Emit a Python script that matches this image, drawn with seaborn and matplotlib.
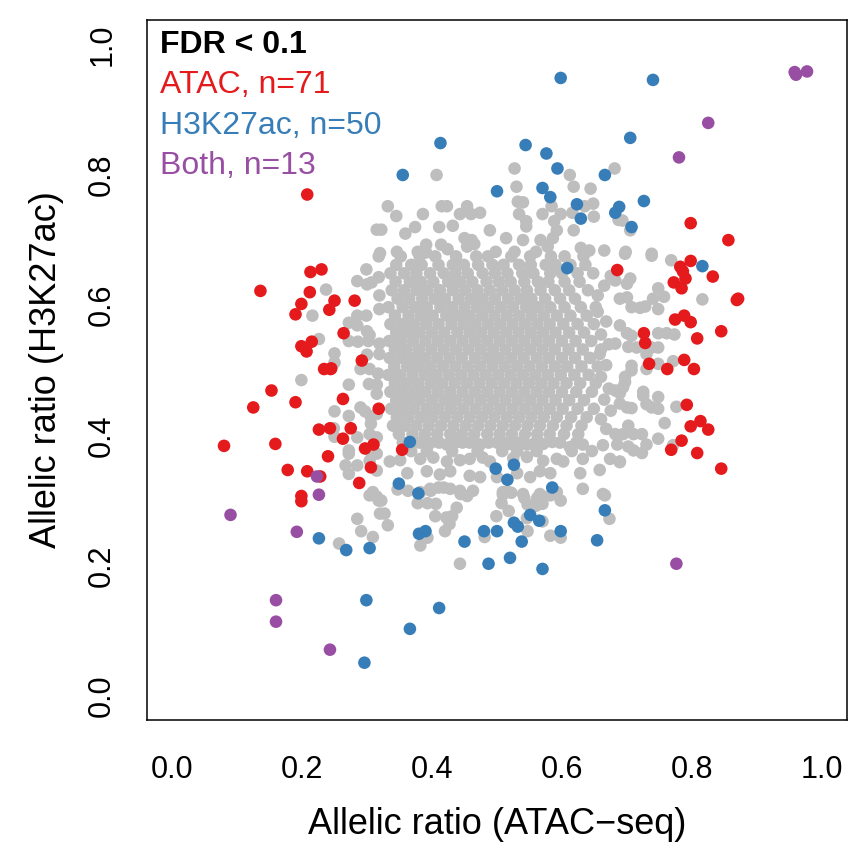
import numpy as np
import pandas as pd
import seaborn as sns
import matplotlib.pyplot as plt

# --- Dados (razões alélicas) ---

# ATAC significativo (vermelho)
atac_x = [0.208, 0.213, 0.230, 0.136, 0.212, 0.250, 0.281, 0.199, 0.242, 0.190,
          0.264, 0.215, 0.199, 0.207, 0.292, 0.234, 0.244, 0.153, 0.190, 0.125,
          0.263, 0.318, 0.226, 0.243, 0.275, 0.263, 0.080, 0.159, 0.297, 0.310,
          0.240, 0.306, 0.178, 0.208, 0.228, 0.288, 0.199, 0.199, 0.685, 0.354,
          0.798, 0.782, 0.786, 0.832, 0.790, 0.772, 0.784, 0.869, 0.774, 0.788,
          0.798, 0.845, 0.726, 0.728, 0.808, 0.734, 0.788, 0.762, 0.803, 0.792,
          0.813, 0.798, 0.825, 0.784, 0.768, 0.808, 0.845, 0.798, 0.856, 0.871,
          0.245]
atac_y = [0.770, 0.651, 0.655, 0.622, 0.620, 0.607, 0.607, 0.602, 0.593, 0.586,
          0.557, 0.544, 0.537, 0.529, 0.515, 0.502, 0.502, 0.469, 0.451, 0.443,
          0.456, 0.441, 0.409, 0.411, 0.411, 0.395, 0.384, 0.387, 0.380, 0.386,
          0.368, 0.351, 0.347, 0.345, 0.337, 0.327, 0.307, 0.299, 0.654, 0.378,
          0.668, 0.659, 0.652, 0.644, 0.641, 0.635, 0.626, 0.608, 0.578, 0.584,
          0.574, 0.560, 0.557, 0.542, 0.549, 0.510, 0.516, 0.502, 0.502, 0.447,
          0.422, 0.414, 0.409, 0.392, 0.378, 0.373, 0.349, 0.726, 0.700, 0.610,
          0.503]

# H3K27ac significativo (azul)
h3_x = [0.598, 0.413, 0.355, 0.544, 0.576, 0.593, 0.570, 0.582, 0.500, 0.623,
        0.629, 0.666, 0.682, 0.688, 0.740, 0.705, 0.726, 0.707, 0.608, 0.816,
        0.366, 0.498, 0.526, 0.516, 0.349, 0.585, 0.379, 0.380, 0.390, 0.450,
        0.480, 0.500, 0.487, 0.520, 0.526, 0.532, 0.538, 0.551, 0.565, 0.598,
        0.570, 0.654, 0.666, 0.411, 0.366, 0.226, 0.268, 0.304, 0.299, 0.296]
h3_y = [0.949, 0.849, 0.800, 0.846, 0.833, 0.810, 0.780, 0.766, 0.775, 0.755,
        0.733, 0.800, 0.742, 0.751, 0.946, 0.857, 0.760, 0.720, 0.657, 0.660,
        0.390, 0.349, 0.355, 0.332, 0.326, 0.320, 0.311, 0.249, 0.253, 0.237,
        0.253, 0.253, 0.203, 0.212, 0.266, 0.260, 0.237, 0.278, 0.269, 0.253,
        0.195, 0.239, 0.285, 0.135, 0.103, 0.242, 0.224, 0.227, 0.147, 0.051]

# Ambos (roxo)
both_x = [0.958, 0.960, 0.977, 0.825, 0.780, 0.223, 0.226, 0.090, 0.192, 0.160,
          0.160, 0.243, 0.776]
both_y = [0.958, 0.954, 0.959, 0.880, 0.827, 0.337, 0.309, 0.278, 0.252, 0.147,
          0.114, 0.071, 0.203]

# Não significativos (cinza): núcleo denso, linha a linha (y da linha, valores de x)
core_y = [0.675, 0.662, 0.649, 0.636, 0.623, 0.610, 0.597, 0.584, 0.571, 0.558,
          0.545, 0.532, 0.519, 0.506, 0.493, 0.480, 0.467, 0.454, 0.441, 0.428,
          0.415, 0.402, 0.389, 0.376]
core_x = [
    [0.352, 0.381, 0.405, 0.437, 0.468, 0.486, 0.522, 0.551, 0.583, 0.604, 0.633],
    [0.345, 0.368, 0.384, 0.410, 0.432, 0.449, 0.471, 0.493, 0.510, 0.534, 0.552, 0.575, 0.590, 0.613, 0.636],
    [0.336, 0.357, 0.376, 0.397, 0.418, 0.436, 0.455, 0.478, 0.497, 0.516, 0.539, 0.556, 0.582, 0.600, 0.624, 0.648],
    [0.344, 0.366, 0.383, 0.402, 0.425, 0.443, 0.462, 0.484, 0.503, 0.521, 0.542, 0.563, 0.579, 0.604, 0.627],
    [0.338, 0.357, 0.376, 0.393, 0.412, 0.432, 0.451, 0.470, 0.489, 0.508, 0.527, 0.546, 0.567, 0.589, 0.611, 0.640],
    [0.347, 0.365, 0.385, 0.404, 0.420, 0.441, 0.460, 0.478, 0.497, 0.517, 0.536, 0.553, 0.574, 0.597, 0.620],
    [0.333, 0.355, 0.374, 0.392, 0.413, 0.431, 0.450, 0.469, 0.487, 0.506, 0.525, 0.545, 0.563, 0.582, 0.604, 0.629, 0.652],
    [0.343, 0.364, 0.383, 0.401, 0.422, 0.440, 0.458, 0.477, 0.496, 0.515, 0.534, 0.553, 0.572, 0.592, 0.613, 0.638],
    [0.336, 0.354, 0.372, 0.391, 0.410, 0.430, 0.449, 0.467, 0.486, 0.505, 0.524, 0.543, 0.562, 0.581, 0.602, 0.624, 0.649],
    [0.345, 0.363, 0.381, 0.400, 0.419, 0.439, 0.458, 0.476, 0.495, 0.514, 0.533, 0.552, 0.571, 0.590, 0.611, 0.634],
    [0.334, 0.352, 0.371, 0.390, 0.409, 0.428, 0.447, 0.466, 0.485, 0.504, 0.523, 0.542, 0.561, 0.580, 0.600, 0.621, 0.645],
    [0.343, 0.361, 0.380, 0.399, 0.418, 0.437, 0.456, 0.475, 0.494, 0.513, 0.532, 0.551, 0.570, 0.589, 0.610, 0.632, 0.660],
    [0.335, 0.353, 0.371, 0.389, 0.408, 0.427, 0.446, 0.466, 0.485, 0.503, 0.522, 0.541, 0.561, 0.580, 0.600, 0.620, 0.643],
    [0.342, 0.362, 0.380, 0.398, 0.417, 0.436, 0.455, 0.474, 0.493, 0.512, 0.531, 0.550, 0.569, 0.589, 0.608, 0.630, 0.655],
    [0.333, 0.351, 0.370, 0.389, 0.407, 0.426, 0.445, 0.464, 0.483, 0.502, 0.521, 0.540, 0.559, 0.578, 0.598, 0.619, 0.641],
    [0.343, 0.361, 0.379, 0.398, 0.416, 0.435, 0.454, 0.473, 0.492, 0.511, 0.530, 0.549, 0.568, 0.587, 0.607, 0.628, 0.652],
    [0.336, 0.354, 0.372, 0.390, 0.409, 0.428, 0.447, 0.466, 0.485, 0.504, 0.523, 0.542, 0.561, 0.580, 0.600, 0.622, 0.646],
    [0.345, 0.363, 0.381, 0.400, 0.419, 0.437, 0.456, 0.475, 0.494, 0.513, 0.532, 0.551, 0.570, 0.590, 0.611, 0.634],
    [0.337, 0.355, 0.373, 0.392, 0.410, 0.429, 0.448, 0.467, 0.486, 0.505, 0.524, 0.543, 0.562, 0.581, 0.601, 0.624, 0.649],
    [0.346, 0.364, 0.383, 0.401, 0.420, 0.439, 0.458, 0.477, 0.496, 0.515, 0.534, 0.553, 0.572, 0.592, 0.614, 0.638],
    [0.340, 0.358, 0.376, 0.395, 0.414, 0.433, 0.452, 0.471, 0.490, 0.509, 0.528, 0.547, 0.566, 0.586, 0.607, 0.630],
    [0.349, 0.370, 0.389, 0.408, 0.428, 0.446, 0.465, 0.485, 0.504, 0.523, 0.543, 0.562, 0.581, 0.603, 0.625],
    [0.355, 0.381, 0.411, 0.447, 0.466, 0.487, 0.511, 0.534, 0.559, 0.597, 0.622],
    [0.368, 0.392, 0.431, 0.470, 0.508, 0.531, 0.561, 0.615, 0.646],
]

# Cinza espalhado em volta do núcleo (x, y)
grey_outer = [
    # parte de cima
    (0.407, 0.800), (0.527, 0.810), (0.612, 0.800), (0.530, 0.782), (0.618, 0.782),
    (0.644, 0.779), (0.532, 0.759), (0.540, 0.758), (0.648, 0.756), (0.332, 0.752),
    (0.415, 0.752), (0.423, 0.752), (0.454, 0.752), (0.584, 0.752), (0.345, 0.737),
    (0.386, 0.740), (0.443, 0.740), (0.460, 0.740), (0.474, 0.742), (0.534, 0.740),
    (0.570, 0.740), (0.598, 0.740), (0.616, 0.742), (0.635, 0.752), (0.649, 0.736),
    (0.322, 0.716), (0.359, 0.710), (0.374, 0.720), (0.411, 0.720), (0.432, 0.722),
    (0.489, 0.715), (0.545, 0.729), (0.545, 0.721), (0.588, 0.729), (0.592, 0.715),
    (0.618, 0.715), (0.450, 0.703), (0.461, 0.700), (0.514, 0.703), (0.540, 0.700),
    (0.567, 0.700), (0.586, 0.703), (0.391, 0.693), (0.414, 0.693), (0.346, 0.682),
    (0.378, 0.682), (0.391, 0.681), (0.424, 0.686), (0.454, 0.690), (0.465, 0.694),
    (0.498, 0.682), (0.527, 0.682), (0.560, 0.682), (0.578, 0.690), (0.629, 0.688),
    (0.642, 0.684), (0.665, 0.684), (0.681, 0.810), (0.693, 0.730), (0.687, 0.731),
    (0.705, 0.715), (0.698, 0.682), (0.738, 0.679), (0.315, 0.716), (0.320, 0.680),
    # lado esquerdo
    (0.299, 0.655), (0.318, 0.675), (0.285, 0.637), (0.300, 0.632), (0.307, 0.635),
    (0.318, 0.643), (0.237, 0.624), (0.319, 0.615), (0.216, 0.584), (0.285, 0.584),
    (0.299, 0.584), (0.319, 0.594), (0.272, 0.573), (0.285, 0.569), (0.300, 0.560),
    (0.226, 0.548), (0.272, 0.545), (0.286, 0.544), (0.302, 0.545), (0.304, 0.554),
    (0.319, 0.541), (0.250, 0.526), (0.250, 0.512), (0.300, 0.524), (0.319, 0.525),
    (0.290, 0.502), (0.304, 0.502), (0.317, 0.495), (0.199, 0.485), (0.272, 0.478),
    (0.303, 0.479), (0.315, 0.478), (0.315, 0.464), (0.250, 0.437), (0.272, 0.430),
    (0.290, 0.443), (0.297, 0.437), (0.306, 0.428), (0.315, 0.433), (0.306, 0.418),
    (0.249, 0.411), (0.250, 0.398), (0.285, 0.397), (0.304, 0.402), (0.315, 0.397),
    (0.272, 0.377), (0.272, 0.372), (0.304, 0.377), (0.285, 0.354), (0.267, 0.354),
    (0.272, 0.341), (0.304, 0.361), (0.315, 0.372), (0.315, 0.346),
    # parte de baixo
    (0.304, 0.308), (0.318, 0.300), (0.320, 0.280), (0.285, 0.272), (0.291, 0.253),
    (0.309, 0.244), (0.257, 0.234), (0.322, 0.300), (0.347, 0.317), (0.363, 0.315),
    (0.398, 0.315), (0.410, 0.320), (0.418, 0.320), (0.378, 0.296), (0.393, 0.296),
    (0.406, 0.295), (0.327, 0.280), (0.332, 0.262), (0.405, 0.276), (0.422, 0.274),
    (0.431, 0.276), (0.438, 0.289), (0.427, 0.264), (0.420, 0.253), (0.393, 0.243),
    (0.382, 0.231), (0.443, 0.203), (0.444, 0.310), (0.454, 0.307), (0.481, 0.244),
    (0.499, 0.276), (0.507, 0.296), (0.509, 0.309), (0.518, 0.284), (0.516, 0.314),
    (0.522, 0.312), (0.542, 0.304), (0.547, 0.294), (0.560, 0.292), (0.570, 0.295),
    (0.547, 0.253), (0.546, 0.273), (0.570, 0.268), (0.582, 0.246), (0.598, 0.243),
    (0.582, 0.308), (0.598, 0.300), (0.666, 0.308), (0.673, 0.272), (0.562, 0.304),
    (0.397, 0.388), (0.423, 0.386), (0.438, 0.390), (0.458, 0.389), (0.474, 0.386),
    (0.500, 0.389), (0.520, 0.387), (0.546, 0.386), (0.571, 0.387), (0.585, 0.390),
    (0.612, 0.382), (0.632, 0.386), (0.663, 0.385), (0.685, 0.386), (0.335, 0.360),
    (0.351, 0.362), (0.382, 0.364), (0.402, 0.366), (0.423, 0.360), (0.443, 0.362),
    (0.458, 0.364), (0.478, 0.366), (0.489, 0.360), (0.525, 0.365), (0.546, 0.367),
    (0.571, 0.361), (0.592, 0.364), (0.602, 0.360), (0.632, 0.364), (0.674, 0.364),
    (0.689, 0.360), (0.362, 0.342), (0.392, 0.345), (0.412, 0.340), (0.428, 0.345),
    (0.458, 0.338), (0.474, 0.336), (0.500, 0.336), (0.531, 0.342), (0.551, 0.336),
    (0.566, 0.345), (0.582, 0.342), (0.628, 0.342), (0.658, 0.347), (0.397, 0.318),
    (0.428, 0.318), (0.443, 0.315), (0.463, 0.315), (0.509, 0.313), (0.540, 0.310),
    (0.566, 0.310), (0.592, 0.313), (0.632, 0.318), (0.663, 0.310), (0.309, 0.313),
    (0.315, 0.306), (0.382, 0.313),
    # lado direito
    (0.697, 0.679), (0.738, 0.676), (0.768, 0.669), (0.682, 0.638), (0.705, 0.641),
    (0.700, 0.633), (0.748, 0.626), (0.757, 0.613), (0.740, 0.610), (0.689, 0.610),
    (0.700, 0.612), (0.707, 0.597), (0.720, 0.596), (0.728, 0.598), (0.748, 0.594),
    (0.816, 0.609), (0.689, 0.569), (0.700, 0.557), (0.707, 0.553), (0.748, 0.557),
    (0.761, 0.557), (0.773, 0.555), (0.682, 0.541), (0.702, 0.536), (0.715, 0.535),
    (0.730, 0.525), (0.738, 0.535), (0.748, 0.535), (0.707, 0.507), (0.707, 0.500),
    (0.730, 0.502), (0.748, 0.510), (0.771, 0.514), (0.697, 0.490), (0.697, 0.482),
    (0.694, 0.474), (0.682, 0.469), (0.689, 0.465), (0.725, 0.467), (0.725, 0.461),
    (0.748, 0.459), (0.730, 0.448), (0.738, 0.443), (0.748, 0.441), (0.689, 0.449),
    (0.700, 0.443), (0.707, 0.442), (0.776, 0.444), (0.758, 0.419), (0.702, 0.415),
    (0.682, 0.402), (0.694, 0.402), (0.710, 0.402), (0.723, 0.402), (0.748, 0.395),
    (0.730, 0.386), (0.702, 0.383), (0.710, 0.377), (0.723, 0.373), (0.771, 0.385),
    (0.689, 0.359), (0.655, 0.590), (0.668, 0.575), (0.660, 0.555), (0.672, 0.540),
    (0.658, 0.525), (0.668, 0.508), (0.660, 0.490), (0.672, 0.472), (0.665, 0.455),
    (0.675, 0.438), (0.660, 0.425), (0.668, 0.410), (0.655, 0.615), (0.665, 0.630),
    (0.675, 0.645),
]

# --- Montagem do DataFrame ---
grey_x = [x for row_y, row in zip(core_y, core_x) for x in row] + [p[0] for p in grey_outer]
grey_y = [row_y for row_y, row in zip(core_y, core_x) for x in row] + [p[1] for p in grey_outer]

df = pd.concat([
    pd.DataFrame({'atac': grey_x, 'h3': grey_y, 'grupo': 'ns'}),
    pd.DataFrame({'atac': atac_x, 'h3': atac_y, 'grupo': 'ATAC'}),
    pd.DataFrame({'atac': h3_x, 'h3': h3_y, 'grupo': 'H3K27ac'}),
    pd.DataFrame({'atac': both_x, 'h3': both_y, 'grupo': 'Both'}),
], ignore_index=True)

cores = {'ns': '#BEBEBE', 'ATAC': '#E41A1C', 'H3K27ac': '#377EB8', 'Both': '#984EA3'}

sns.set_theme(style='white')
plt.rcParams['font.family'] = ['Liberation Sans', 'DejaVu Sans']

fig = plt.figure(figsize=(8.57, 8.46), dpi=100)
ax = fig.add_axes([147 / 857, 1 - 720 / 846, 700 / 857, 700 / 846])

sns.scatterplot(data=df, x='atac', y='h3', hue='grupo', palette=cores,
                s=82, linewidth=0, legend=False, ax=ax)

ax.set_xlim(-0.0385, 1.0385)
ax.set_ylim(-0.037, 1.038)

ticks = [0.0, 0.2, 0.4, 0.6, 0.8, 1.0]
tick_labels = ['0.0', '0.2', '0.4', '0.6', '0.8', '1.0']
ax.set_xticks(ticks)
ax.set_xticklabels(tick_labels)
ax.set_yticks(ticks)
ax.set_yticklabels(tick_labels, rotation=90, va='center')

for s in ax.spines.values():
    s.set_visible(True)
    s.set_color('black')
    s.set_linewidth(1.1)

ax.tick_params(axis='both', which='major', direction='out', length=6.5, width=1.1,
               color='black', labelsize=22, labelcolor='black')
ax.tick_params(axis='x', pad=19)
ax.tick_params(axis='y', pad=15)

ax.set_xlabel('Allelic ratio (ATAC\u2212seq)', fontsize=26, color='black')
ax.set_ylabel('Allelic ratio (H3K27ac)', fontsize=26, color='black')
ax.xaxis.set_label_coords(0.5, -0.124)
ax.yaxis.set_label_coords(-0.118, 0.5)

# Legenda em texto
ax.text(0.018, 0.964, 'FDR < 0.1', transform=ax.transAxes, fontsize=23,
        fontweight='bold', color='black', va='center', ha='left')
ax.text(0.018, 0.907, 'ATAC, n=71', transform=ax.transAxes, fontsize=23,
        color=cores['ATAC'], va='center', ha='left')
ax.text(0.018, 0.849, 'H3K27ac, n=50', transform=ax.transAxes, fontsize=23,
        color=cores['H3K27ac'], va='center', ha='left')
ax.text(0.018, 0.791, 'Both, n=13', transform=ax.transAxes, fontsize=23,
        color=cores['Both'], va='center', ha='left')

plt.savefig('out.png', dpi=100)
